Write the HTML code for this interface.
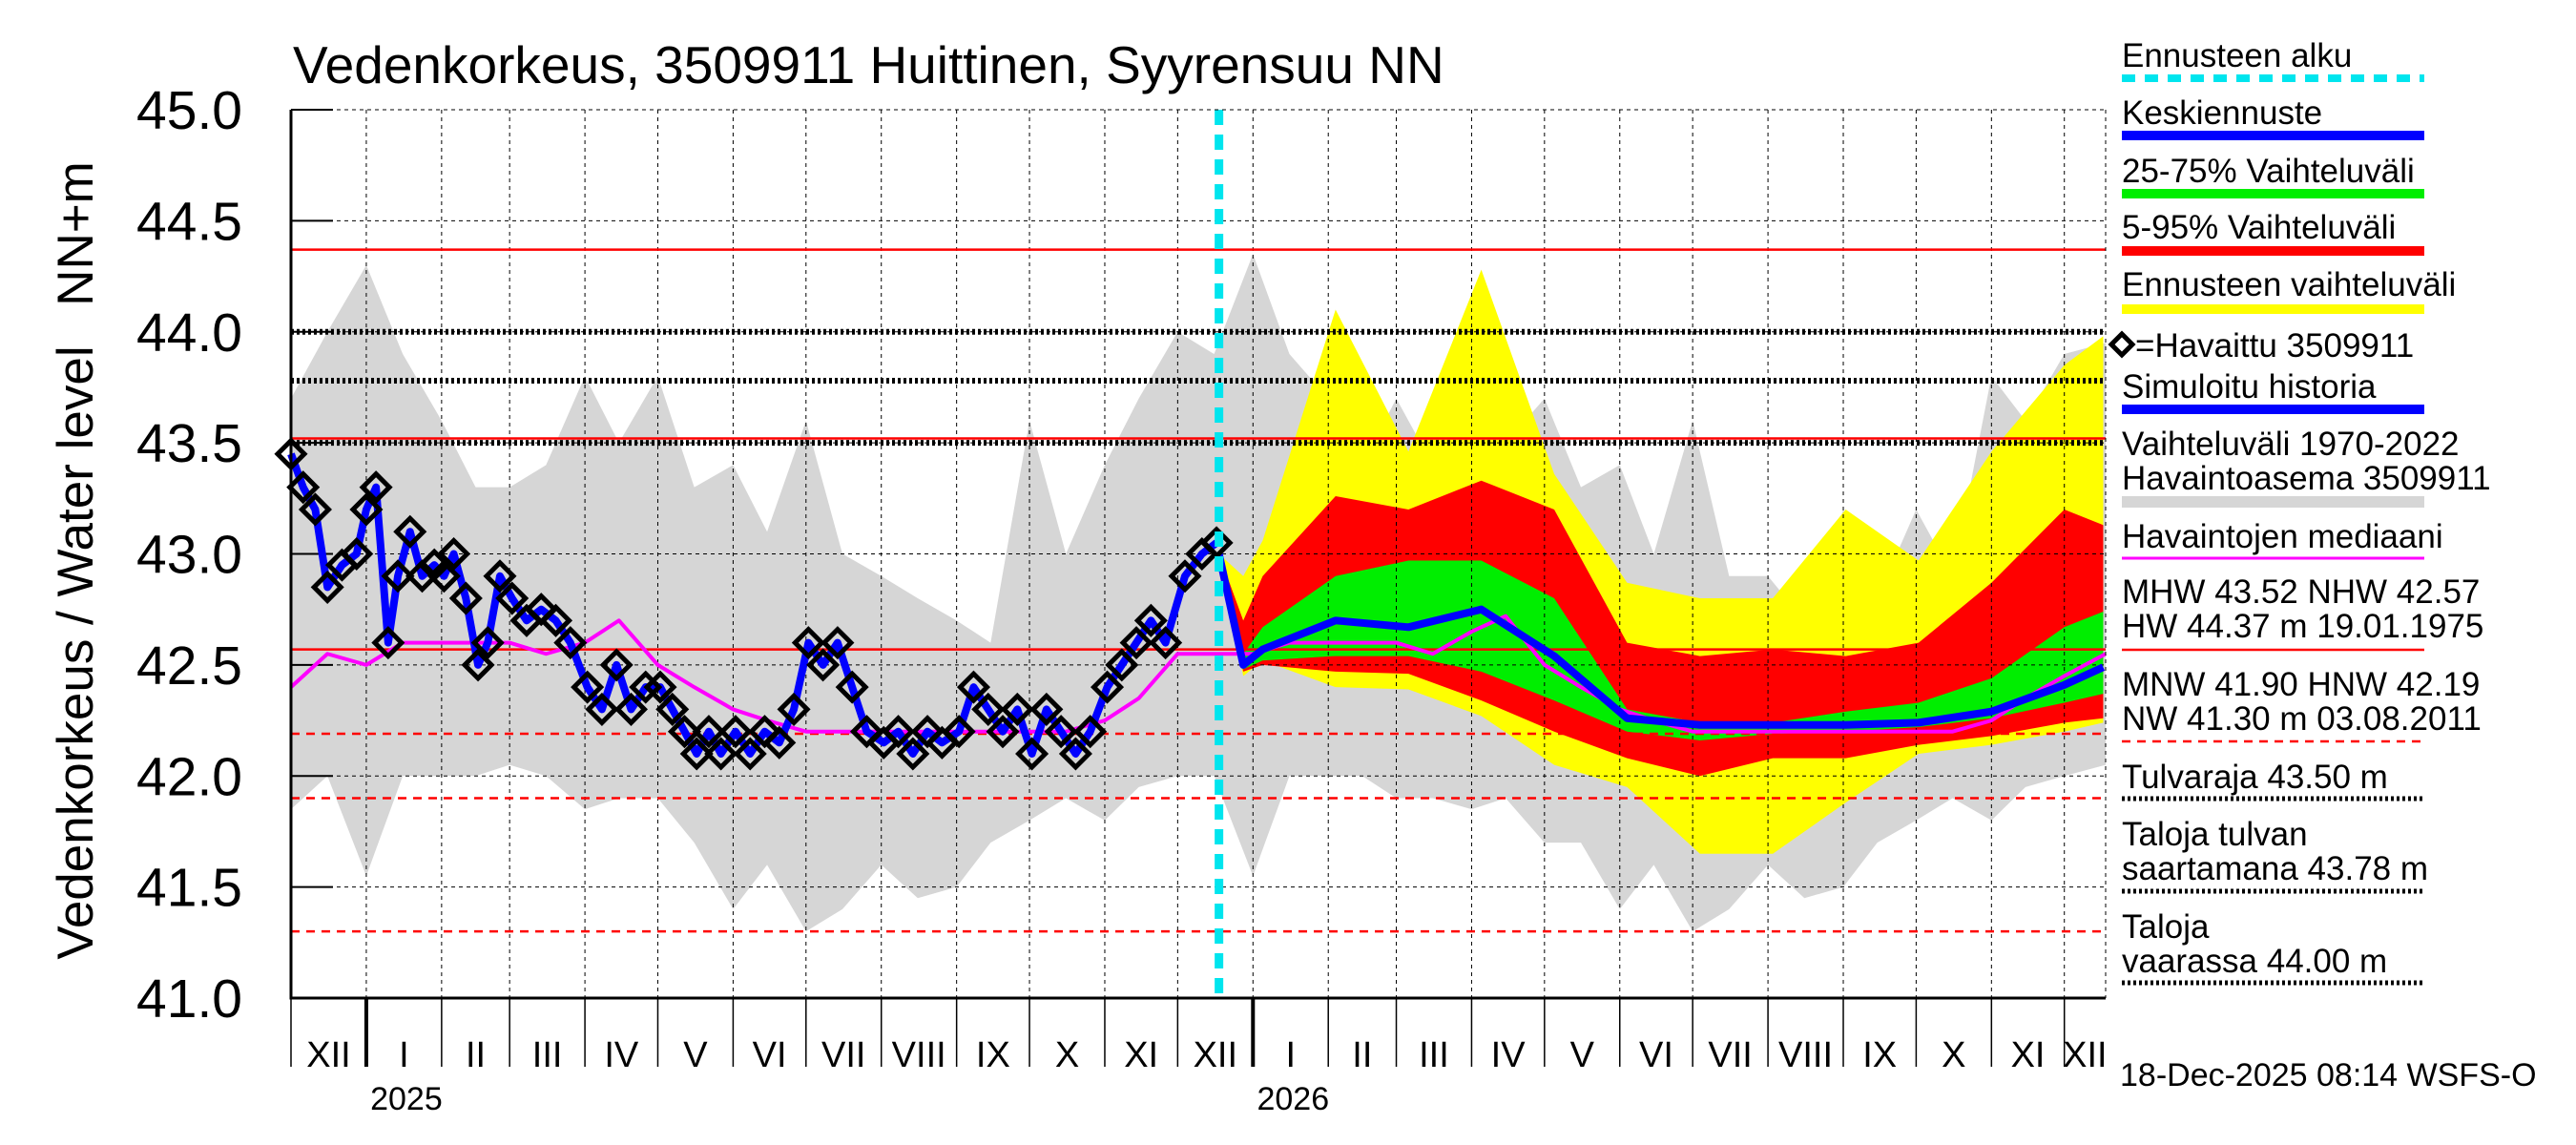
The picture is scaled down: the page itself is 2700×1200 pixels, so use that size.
<!DOCTYPE html>
<html><head><meta charset="utf-8">
<style>
html,body{margin:0;padding:0;background:#fff;}
svg{display:block;font-family:"Liberation Sans",sans-serif;}
</style></head>
<body>
<svg id="chart" width="2700" height="1200" viewBox="0 0 2700 1200" xmlns="http://www.w3.org/2000/svg">
<rect x="0" y="0" width="2700" height="1200" fill="#fff"/>
<g id="plot"></g>
<text x="307" y="87" font-size="55" fill="#000">Vedenkorkeus, 3509911 Huittinen, Syyrensuu NN</text>
<text transform="translate(97,684) rotate(-90)" text-anchor="middle" font-size="53" fill="#000">Vedenkorkeus / Water level</text>
<text transform="translate(97,245) rotate(-90)" text-anchor="middle" font-size="53" fill="#000">NN+m</text>
<g id="legend"></g>
<text x="2222" y="1138" font-size="34" fill="#000">18-Dec-2025 08:14 WSFS-O</text>
</svg>
<script>
// ---- data ----
const yTicks = [41.0,41.5,42.0,42.5,43.0,43.5,44.0,44.5,45.0];
const monthStarts = [0,31,62,90,121,151,182,212,243,274,304,335,365,396,427,455,486,516,547,577,608,639,669,700,730,747];
const monthLabels = ["XII","I","II","III","IV","V","VI","VII","VIII","IX","X","XI","XII","I","II","III","IV","V","VI","VII","VIII","IX","X","XI","XII"];
const yearLabels = ["2025","2026"];
const yearDays = [31,396];
const histDays = [0,15,31,46,62,76,90,105,121,135,151,166,182,196,212,227,243,258,274,288,304,319,335,349,365,380,396,411,427,441,455,470,486,500,516,531,547,561,577,592,608,623,639,653,669,684,700,714,730,747];
const histUpper = [43.7,44.0,44.3,43.9,43.6,43.3,43.3,43.4,43.8,43.5,43.8,43.3,43.4,43.1,43.6,43.0,42.9,42.8,42.7,42.6,43.6,43.0,43.4,43.7,44.0,43.9,44.35,43.9,43.7,43.4,43.7,43.4,43.6,43.5,43.7,43.3,43.4,43.0,43.6,42.9,42.9,42.7,43.2,42.8,43.2,42.9,43.8,43.6,43.9,43.95];
const histLower = [41.85,42.0,41.55,42.0,42.0,42.0,42.05,42.0,41.85,41.9,41.9,41.7,41.4,41.6,41.3,41.4,41.6,41.45,41.5,41.7,41.8,41.9,41.8,41.95,42.0,42.0,41.55,42.0,42.0,42.0,41.9,41.9,41.85,41.9,41.7,41.7,41.4,41.6,41.3,41.4,41.6,41.45,41.5,41.7,41.8,41.9,41.8,41.95,42.0,42.05];
const medianVals = [42.4,42.55,42.5,42.6,42.6,42.6,42.6,42.55,42.6,42.7,42.5,42.4,42.3,42.25,42.2,42.2,42.2,42.2,42.2,42.2,42.2,42.2,42.25,42.35,42.55,42.55,42.55,42.6,42.6,42.6,42.6,42.55,42.65,42.72,42.5,42.4,42.3,42.25,42.2,42.2,42.2,42.2,42.2,42.2,42.2,42.2,42.25,42.35,42.45,42.55];
const obsDays = [0,5,10,15,21,27,31,35,40,44,49,54,59,63,67,72,77,81,86,91,97,103,109,115,122,128,134,140,146,152,157,162,167,172,177,183,189,195,201,207,213,219,225,231,237,244,250,256,262,268,275,281,287,293,299,305,311,317,323,329,336,342,348,354,360,368,375,381];
const obsVals = [43.45,43.3,43.2,42.85,42.95,43.0,43.2,43.3,42.6,42.9,43.1,42.9,42.95,42.9,43.0,42.8,42.5,42.6,42.9,42.8,42.7,42.75,42.7,42.6,42.4,42.3,42.5,42.3,42.4,42.4,42.3,42.2,42.1,42.2,42.1,42.2,42.1,42.2,42.15,42.3,42.6,42.5,42.6,42.4,42.2,42.15,42.2,42.1,42.2,42.15,42.2,42.4,42.3,42.2,42.3,42.1,42.3,42.2,42.1,42.2,42.4,42.5,42.6,42.7,42.6,42.9,43.0,43.05];
const fcDays = [382,392,400,430,460,490,520,550,580,610,640,670,700,730,746];
const fcYellowHi = [43.0,42.9,43.06,44.1,43.46,44.28,43.36,42.87,42.8,42.8,43.2,42.97,43.46,43.85,43.98];
const fcYellowLo = [43.0,42.45,42.52,42.4,42.39,42.27,42.05,41.95,41.65,41.65,41.88,42.1,42.14,42.2,42.24];
const fcRedHi = [43.0,42.7,42.9,43.26,43.2,43.33,43.2,42.6,42.54,42.57,42.54,42.6,42.87,43.2,43.13];
const fcRedLo = [43.0,42.47,42.5,42.47,42.46,42.34,42.2,42.08,42.0,42.08,42.08,42.14,42.18,42.24,42.26];
const fcGreenHi = [43.0,42.55,42.67,42.9,42.97,42.97,42.8,42.3,42.24,42.24,42.29,42.33,42.44,42.67,42.74];
const fcGreenLo = [43.0,42.48,42.52,42.54,42.54,42.47,42.34,42.2,42.16,42.19,42.2,42.22,42.26,42.33,42.37];
const fcMean = [43.0,42.5,42.57,42.7,42.67,42.75,42.54,42.26,42.23,42.23,42.23,42.24,42.29,42.41,42.49];
const forecastStartDay = 382;
const refHW = 44.37, refMHW = 43.52, refNHW = 42.57, refHNW = 42.19, refMNW = 41.90, refNW = 41.30;
const dotLevels = [43.50,43.78,44.00];

// ---- axes ----
const X0=305, X1=2207, Y0=115, Y1=1046, DMAX=747, VMIN=41, VMAX=45;
function xs(d){return X0+(d/DMAX)*(X1-X0);}
function ys(v){return Y1-(v-VMIN)/(VMAX-VMIN)*(Y1-Y0);}
const NS="http://www.w3.org/2000/svg";
const plot=document.getElementById('plot');
function mk(tag,attrs,parent){const e=document.createElementNS(NS,tag);for(const k in attrs)e.setAttribute(k,attrs[k]);(parent||plot).appendChild(e);return e;}
function band(days,hi,lo,fill,name){
  let pts=[];for(let i=0;i<days.length;i++)pts.push(xs(days[i])+','+ys(hi[i]));
  for(let i=days.length-1;i>=0;i--)pts.push(xs(days[i])+','+ys(lo[i]));
  const p=mk('polygon',{points:pts.join(' '),fill:fill});
  
  
}
function line(days,vals,stroke,w,name){
  const pts=days.map((d,i)=>xs(d)+','+ys(vals[i])).join(' ');
  const p=mk('polyline',{points:pts,fill:'none',stroke:stroke,'stroke-width':w,'stroke-linejoin':'round'});
  
  
}
band(histDays,histUpper,histLower,'#d6d6d6','historical-range-band');
band(fcDays,fcYellowHi,fcYellowLo,'#ffff00','forecast-range-band');
band(fcDays,fcRedHi,fcRedLo,'#ff0000','forecast-5-95-band');
band(fcDays,fcGreenHi,fcGreenLo,'#00ee00','forecast-25-75-band');
// grid
yTicks.forEach(v=>{
  const g=mk('line',{x1:X0,x2:X1,y1:ys(v),y2:ys(v),stroke:'#000','stroke-width':1,'stroke-dasharray':'4,4'});
  
  
  const t=mk('line',{x1:X0,x2:X0+44,y1:ys(v),y2:ys(v),stroke:'#000','stroke-width':2});
  
  
  const l=mk('text',{x:254,y:ys(v)+20,'text-anchor':'end','font-size':57,fill:'#000'});
  l.textContent=v.toFixed(1);
  
  
});
monthStarts.forEach((d,i)=>{
  if(i>0&&i<monthStarts.length-1){
    const g=mk('line',{x1:xs(d),x2:xs(d),y1:Y0,y2:Y1,stroke:'#000','stroke-width':1,'stroke-dasharray':'4,4'});
    
    
  }
  if(i<monthStarts.length-1){
    const yr=yearDays.indexOf(d)>=0;
    const t=mk('line',{x1:xs(d),x2:xs(d),y1:Y1,y2:1118,stroke:'#000','stroke-width':yr?4:1.5});
    
    
    const l=mk('text',{x:(xs(d)+xs(monthStarts[i+1]))/2,y:1118,'text-anchor':'middle','font-size':38,fill:'#000'});
    l.textContent=monthLabels[i];
    
    
  }
});
yearLabels.forEach((y,i)=>{
  const l=mk('text',{x:xs(yearDays[i])+42,y:1163,'text-anchor':'middle','font-size':34,fill:'#000'});
  l.textContent=y;
  
  
});
// reference lines
[[refHW,'solid','hw-line'],[refNHW,'solid','nhw-line'],[refHNW,'dash','hnw-line'],[refMNW,'dash','mnw-line'],[refNW,'dash','nw-line']].forEach(r=>{
  const a={x1:X0,x2:X1,y1:ys(r[0]),y2:ys(r[0]),stroke:'#ff0000','stroke-width':2.5};
  if(r[1]==='dash')a['stroke-dasharray']='9,7';
  const e=mk('line',a);
  
  
});
dotLevels.forEach(v=>{
  const e=mk('line',{x1:X0,x2:X1,y1:ys(v),y2:ys(v),stroke:'#000','stroke-width':6,'stroke-dasharray':'3,3'});
  
  
});
{const e=mk('line',{x1:X0,x2:X1,y1:ys(refMHW),y2:ys(refMHW),stroke:'#ff0000','stroke-width':2.5});

}
// series
line(histDays,medianVals,'#ff00ff',4,'median-line');
line(obsDays,obsVals,'#0000ff',8,'simulated-history-line');
line(fcDays,fcMean,'#0000ff',8,'forecast-mean-line');
obsDays.forEach((d,i)=>{
  const x=xs(d),y=ys(obsVals[i]),r=14;
  const p=mk('polygon',{points:`${x},${y-r} ${x+r},${y} ${x},${y+r} ${x-r},${y}`,fill:'none',stroke:'#000','stroke-width':5});
  
  
});
{const e=mk('line',{x1:xs(forecastStartDay),x2:xs(forecastStartDay),y1:Y0,y2:Y1,stroke:'#00e5ee','stroke-width':9,'stroke-dasharray':'16,10'});

}
// axes frame
{const e=mk('polyline',{points:`${X0},${Y0} ${X0},${Y1} ${X1},${Y1}`,fill:'none',stroke:'#000','stroke-width':3});


const f=mk('line',{x1:X0,x2:X1,y1:Y0,y2:Y0,stroke:'#000','stroke-width':1,'stroke-dasharray':'4,4'});


const g=mk('line',{x1:X1,x2:X1,y1:Y0,y2:Y1,stroke:'#000','stroke-width':1,'stroke-dasharray':'4,4'});

}
// legend
const leg=document.getElementById('legend');
const LX=2224, LX2=2541;
function ltext(s,y,name){const t=mk('text',{x:LX,y:y,'font-size':35,fill:'#000'},leg);t.textContent=s;}
function lline(y,stroke,w,dash,name){const a={x1:LX,x2:LX2,y1:y,y2:y,stroke:stroke,'stroke-width':w};if(dash)a['stroke-dasharray']=dash;const e=mk('line',a,leg);}
ltext('Ennusteen alku',70,'legend-forecast-start');lline(82,'#00e5ee',8,'14,10','legend-forecast-start-swatch');
ltext('Keskiennuste',130,'legend-mean');lline(142,'#0000ff',10,null,'legend-mean-swatch');
ltext('25-75% Vaihteluväli',191,'legend-25-75');lline(203,'#00ee00',10,null,'legend-25-75-swatch');
ltext('5-95% Vaihteluväli',250,'legend-5-95');lline(263,'#ff0000',10,null,'legend-5-95-swatch');
ltext('Ennusteen vaihteluväli',310,'legend-forecast-range');lline(324,'#ffff00',10,null,'legend-forecast-range-swatch');
{const p=mk('polygon',{points:`${LX},${350} ${LX+11},${361} ${LX},${372} ${LX-11},${361}`,fill:'none',stroke:'#000','stroke-width':5},leg);
const t=mk('text',{x:LX+14,y:374,'font-size':35,fill:'#000'},leg);t.textContent='=Havaittu 3509911';}
ltext('Simuloitu historia',417,'legend-simulated');lline(429,'#0000ff',10,null,'legend-simulated-swatch');
ltext('Vaihteluväli 1970-2022',477,'legend-hist-range');ltext('Havaintoasema 3509911',513,'legend-hist-station');lline(526,'#d6d6d6',12,null,'legend-hist-range-swatch');
ltext('Havaintojen mediaani',574,'legend-median');lline(585,'#ff00ff',3,null,'legend-median-swatch');
ltext('MHW  43.52 NHW  42.57',632,'legend-mhw');ltext('HW  44.37 m 19.01.1975',668,'legend-hw');lline(681,'#ff0000',2.5,null,'legend-hw-swatch');
ltext('MNW  41.90 HNW  42.19',729,'legend-mnw');ltext('NW  41.30 m 03.08.2011',765,'legend-nw');lline(777,'#ff0000',2.5,'9,7','legend-nw-swatch');
ltext('Tulvaraja 43.50 m',826,'legend-flood-limit');lline(837,'#000',5,'3,3','legend-flood-limit-swatch');
ltext('Taloja tulvan',886,'legend-houses-surrounded');ltext('saartamana 43.78 m',922,'legend-houses-surrounded-level');lline(934,'#000',5,'3,3','legend-houses-surrounded-swatch');
ltext('Taloja',983,'legend-houses-danger');ltext('vaarassa 44.00 m',1019,'legend-houses-danger-level');lline(1030,'#000',5,'3,3','legend-houses-danger-swatch');
</script>
</body></html>
